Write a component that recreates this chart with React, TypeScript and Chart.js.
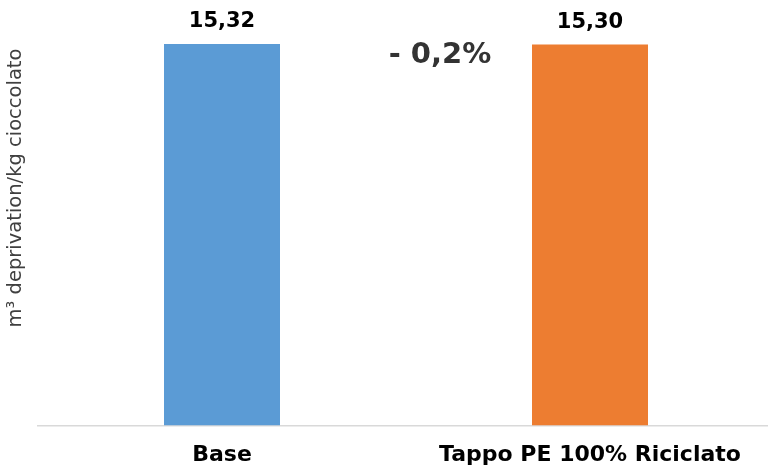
import React, { useEffect, useRef } from "react";
import { Chart, registerables } from "chart.js";

Chart.register(...registerables);

const categories = ["Base", "Tappo PE 100% Riciclato"];
const values = [15.32, 15.3];
const valueLabels = ["15,32", "15,30"];
const barColors = ["#5B9BD5", "#ED7D31"];
const yTitle = "m³ deprivation/kg cioccolato";
const deltaLabel = "- 0,2%";

const FONT = "'DejaVu Sans', sans-serif";

const overlay = {
  id: "overlay",
  afterDatasetsDraw(chart: any) {
    const ctx = chart.ctx;
    const meta = chart.getDatasetMeta(0);
    ctx.save();
    ctx.fillStyle = "#000000";
    ctx.font = "bold 21px " + FONT;
    ctx.textAlign = "center";
    ctx.textBaseline = "middle";
    meta.data.forEach((bar: any, i: number) => {
      ctx.fillText(valueLabels[i], bar.x, bar.y - 22);
    });
    const b1 = meta.data[1];
    ctx.fillStyle = "#333333";
    ctx.font = "bold 29px " + FONT;
    ctx.fillText(deltaLabel, 440, b1.y + 11);
    ctx.fillStyle = "#404040";
    ctx.font = "19.5px " + FONT;
    ctx.translate(16, 188);
    ctx.rotate(-Math.PI / 2);
    ctx.fillText(yTitle, 0, 0);
    ctx.restore();
  },
};

export default function App() {
  const ref = useRef<HTMLCanvasElement>(null);
  useEffect(() => {
    if (!ref.current) return;
    const chart = new Chart(ref.current, {
      type: "bar",
      data: {
        labels: categories,
        datasets: [
          {
            data: values,
            backgroundColor: barColors,
            borderWidth: 0,
            categoryPercentage: 1,
            barPercentage: 116 / 368,
          },
        ],
      },
      options: {
        animation: false,
        responsive: false,
        maintainAspectRatio: false,
        layout: { padding: { left: 38, right: 0, top: 27, bottom: -19 } },
        plugins: { legend: { display: false }, tooltip: { enabled: false } },
        scales: {
          x: {
            grid: { display: false, drawTicks: false },
            border: { display: true, color: "#d9d9d9", width: 1.5 },
            ticks: {
              color: "#000000",
              font: { family: FONT, size: 22, weight: "bold" },
              padding: 16,
              maxRotation: 0,
            },
          },
          y: {
            display: false,
            min: 0,
            max: 16,
          },
        },
      },
      plugins: [overlay],
    });
    return () => chart.destroy();
  }, []);
  return (
    <div style={{ position: "fixed", left: 0, top: 0, width: 768, height: 465, overflow: "hidden", background: "#fff" }}>
      <canvas ref={ref} width={774} height={465} style={{ width: 774, height: 465, display: "block" }} />
    </div>
  );
}
